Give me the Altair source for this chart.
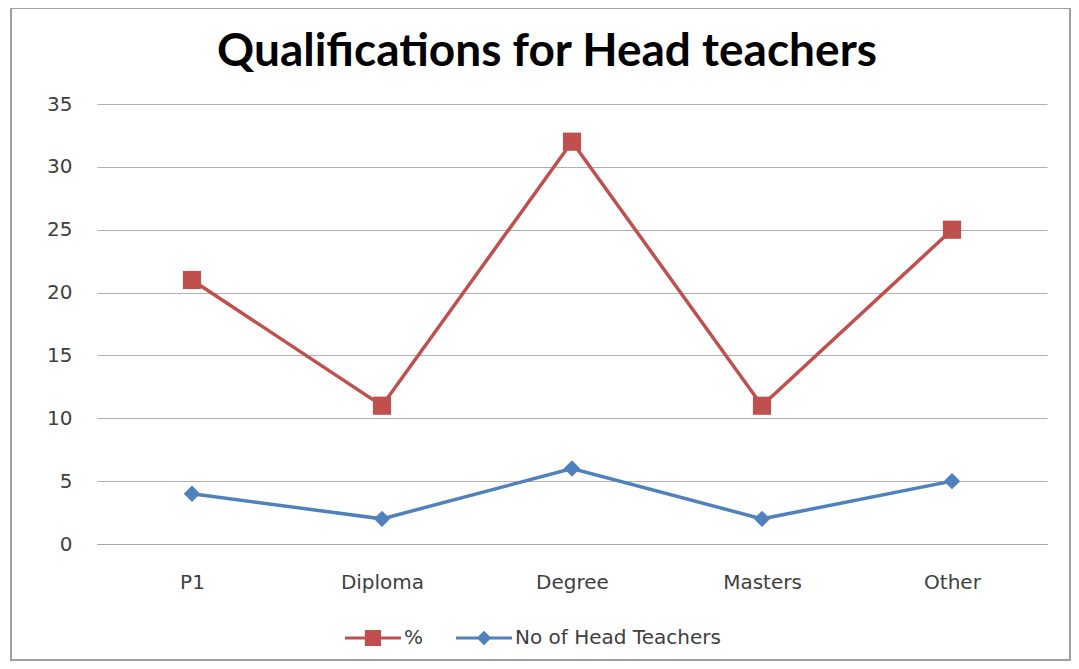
import altair as alt
import pandas as pd

title_text = "Qualifications for Head teachers"
categories = ["P1", "Diploma", "Degree", "Masters", "Other"]
pct_values = [21, 11, 32, 11, 25]
head_values = [4, 2, 6, 2, 5]
series_names = ["%", "No of Head Teachers"]
colors = ["#C0504D", "#4F81BD"]

rows = []
for c, v in zip(categories, pct_values):
    rows.append({"cat": c, "value": v, "series": series_names[0]})
for c, v in zip(categories, head_values):
    rows.append({"cat": c, "value": v, "series": series_names[1]})
df = pd.DataFrame(rows)

FONT = "DejaVu Sans"

x_enc = alt.X("cat:N", sort=categories, title=None,
              scale=alt.Scale(paddingInner=0, paddingOuter=0.5),
              axis=alt.Axis(labelAngle=0, labelFontSize=20, labelColor="#404040",
                            labelFont=FONT, ticks=False, domain=True, domainColor="#a6a6a6",
                            labelPadding=28, grid=False))
y_enc = alt.Y("value:Q", title=None,
              scale=alt.Scale(domain=[0, 35], nice=False),
              axis=alt.Axis(values=[0, 5, 10, 15, 20, 25, 30, 35], labelFontSize=20,
                            labelColor="#404040", labelFont=FONT, ticks=False,
                            domain=False, grid=True, gridColor="#b0b0b0", gridWidth=1.2,
                            labelPadding=25))

base = alt.Chart(df)
pct = base.transform_filter(alt.datum.series == series_names[0])
head = base.transform_filter(alt.datum.series == series_names[1])

pct_line = pct.mark_line(strokeWidth=3.5, color=colors[0]).encode(x=x_enc, y=y_enc)
head_line = head.mark_line(strokeWidth=3.5, color=colors[1]).encode(x=x_enc, y=y_enc)
squares = pct.mark_point(shape="square", filled=True, size=330, opacity=1,
                         color=colors[0]).encode(x=x_enc, y=y_enc)
diamonds = head.mark_point(shape="diamond", filled=True, size=270, opacity=1,
                           color=colors[1]).encode(x=x_enc, y=y_enc)

leg_props = dict(title=None, orient="none", legendX=248, legendY=506,
                 direction="horizontal", columns=2, symbolSize=3136,
                 symbolStrokeWidth=0, labelFontSize=20, labelFont=FONT,
                 labelColor="#404040", labelOffset=3, columnPadding=32,
                 symbolOpacity=1, labelLimit=500)

legend_layer = base.transform_filter(alt.datum.value < -999).mark_point(filled=True, opacity=1).encode(
    x=x_enc, y=y_enc,
    color=alt.Color("series:N", scale=alt.Scale(domain=series_names, range=colors),
                    legend=alt.Legend(**leg_props)),
    shape=alt.Shape("series:N", scale=alt.Scale(
        domain=series_names,
        range=["M-1,-0.055H1V0.055H-1Z M-0.29,-0.29H0.29V0.29H-0.29Z",
               "M-1,-0.055H1V0.055H-1Z M0,-0.26L0.26,0L0,0.26L-0.26,0Z"]),
        legend=alt.Legend(**leg_props)),
)

border = alt.Chart(pd.DataFrame({"k": [0]})).mark_rect(
    fill=None, stroke="#a0a0a0", strokeWidth=2).encode(
    x=alt.value(-86), x2=alt.value(973), y=alt.value(-96), y2=alt.value(556))

title = alt.Chart(pd.DataFrame({"t": [title_text]})).mark_text(
    font="Lato", fontSize=46, fontWeight="bold", color="#000000",
    align="center", baseline="alphabetic").encode(
    text="t:N", x=alt.value(450), y=alt.value(-38))

chart = alt.layer(border, title, pct_line, head_line, squares, diamonds, legend_layer).properties(
    width=950, height=440,
    autosize=alt.AutoSizeParams(type="none"),
    padding={"left": 89, "top": 96, "right": 24, "bottom": 117},
).configure(background="white", view=alt.ViewConfig(stroke=None))

chart.save("out.html", embed_options={"renderer": "svg", "actions": False})
